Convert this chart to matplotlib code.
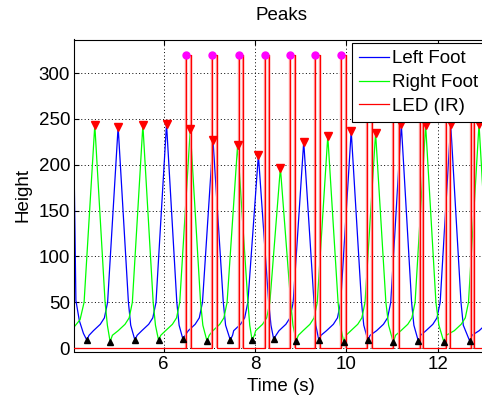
import numpy as np
import matplotlib
matplotlib.use('Agg')
import matplotlib.pyplot as plt

plt.rcParams['font.family'] = ['Liberation Sans', 'DejaVu Sans']

# pressure traces of the two feet (time in s, height in sensor counts)
left_t = [4.05, 4.085, 4.16, 4.25, 4.323,
          4.373, 4.468, 4.618, 4.708, 4.778, 5.008, 5.233, 5.283, 5.374,
          5.424, 5.526, 5.676, 5.766, 5.836, 6.066, 6.291, 6.341, 6.425,
          6.475, 6.542, 6.692, 6.782, 6.852, 7.082, 7.307, 7.357, 7.460,
          7.510, 7.534, 7.684, 7.774, 7.844, 8.074, 8.299, 8.349, 8.409,
          8.459, 8.525, 8.675, 8.765, 8.835, 9.065, 9.290, 9.330, 9.394,
          9.444, 9.563, 9.713, 9.803, 9.873, 10.103, 10.328, 10.378, 10.467,
          10.517, 10.658, 10.808, 10.898, 10.968, 11.198, 11.423, 11.473, 11.570,
          11.620, 11.738, 11.888, 11.978, 12.048, 12.278, 12.503, 12.553, 12.694,
          12.744, 12.900, 13.050, 13.150]
left_h = [180, 52, 30, 16, 8.8,
          14, 19, 26, 33, 50, 241.6, 50, 25, 8.8,
          14, 19, 26, 33, 50, 244.5, 50, 25, 9.6,
          14, 19, 26, 33, 50, 227.0, 50, 25, 8.8,
          14, 19, 26, 33, 50, 210.7, 50, 25, 9.6,
          14, 19, 26, 33, 50, 225.2, 50, 25, 8.8,
          14, 19, 26, 33, 50, 236.9, 50, 25, 8.8,
          14, 19, 26, 33, 50, 244.5, 50, 25, 7.7,
          14, 19, 26, 33, 50, 244.5, 50, 25, 7.7,
          14, 19, 26, 33]

right_t = [4.045, 4.176, 4.264, 4.498, 4.723, 4.773, 4.833,
           4.883, 5.009, 5.159, 5.249, 5.319, 5.549, 5.774, 5.824, 5.891,
           5.941, 6.045, 6.195, 6.285, 6.355, 6.585, 6.810, 6.860, 6.950,
           7.000, 7.080, 7.230, 7.320, 7.390, 7.620, 7.845, 7.885, 7.936,
           7.986, 8.015, 8.165, 8.255, 8.325, 8.555, 8.780, 8.830, 8.899,
           8.949, 9.051, 9.201, 9.291, 9.361, 9.591, 9.816, 9.866, 9.941,
           9.991, 10.096, 10.246, 10.336, 10.406, 10.636, 10.861, 10.921, 11.023,
           11.073, 11.190, 11.340, 11.430, 11.500, 11.730, 11.955, 12.020, 12.131,
           12.181, 12.357, 12.507, 12.597, 12.667, 12.897, 13.122, 13.172]
right_h = [23, 31, 50, 243.4, 50, 25, 7.0,
           14, 19, 26, 33, 50, 243.4, 50, 25, 8.8,
           14, 19, 26, 33, 50, 238.7, 50, 25, 7.7,
           14, 19, 26, 33, 50, 221.6, 50, 25, 8.8,
           14, 19, 26, 33, 50, 196.8, 50, 25, 8.1,
           14, 19, 26, 33, 50, 231.4, 50, 25, 6.3,
           14, 19, 26, 33, 50, 235.0, 50, 25, 6.3,
           14, 19, 26, 33, 50, 243.4, 50, 25, 6.3,
           14, 19, 26, 33, 50, 244.5, 50, 25]

# IR LED pulses: rising / falling edge times
led_on = [6.50, 7.07, 7.64, 8.21, 8.76, 9.32, 9.89, 10.45, 11.02, 11.60, 12.18, 12.72]
led_off = [6.60, 7.17, 7.74, 8.31, 8.87, 9.43, 10.00, 10.56, 11.15, 11.68, 12.26, 12.78]
led_high = 320
led_low = 0


def local_extrema(t, h):
    t = np.asarray(t)
    h = np.asarray(h)
    mx = np.where((h[1:-1] > h[:-2]) & (h[1:-1] > h[2:]))[0] + 1
    mn = np.where((h[1:-1] < h[:-2]) & (h[1:-1] < h[2:]))[0] + 1
    return t[mx], h[mx], t[mn], h[mn]


led_t = [4.0]
led_v = [led_low]
for on, off in zip(led_on, led_off):
    led_t += [on, on, off, off]
    led_v += [led_low, led_high, led_high, led_low]
led_t.append(13.3)
led_v.append(led_low)

fig = plt.figure(figsize=(4.82, 4.03), dpi=100)
ax = fig.add_axes([74.3 / 482, 51.5 / 403, 414 / 482, 312 / 403])

ax.plot(left_t, left_h, color='#0000ff', lw=0.9, label='Left Foot')
ax.plot(right_t, right_h, color='#00ff00', lw=0.9, label='Right Foot')
ax.vlines(led_on + led_off, led_low, led_high, color='#ff9c9c', lw=1.7, zorder=2)
ax.plot(led_t, led_v, color='#ff0000', lw=0.9, label='LED (IR)', zorder=3)

for t, h in [(left_t, left_h), (right_t, right_h)]:
    pt, ph, tt, th = local_extrema(t, h)
    ax.plot(pt, ph, 'v', color='#ff0000', ms=6, zorder=4)
    ax.plot(tt, th, '^', color='k', ms=5, zorder=4)
ax.plot(led_on, [led_high] * len(led_on), 'o', color='#ff00ff', ms=5, zorder=4)

ax.set_xlim(4.05, 13.1)
ax.set_ylim(-3.7, 336.7)
ax.set_xticks([6, 8, 10, 12])
ax.set_yticks(range(0, 301, 50))
ax.tick_params(direction='in', top=True, right=True, length=3.5, labelsize=13.5, pad=3)
ax.grid(True, color='k', linestyle=(0, (1, 2.5)), linewidth=0.7)
for s in ax.spines.values():
    s.set_linewidth(0.8)

ax.set_title('Peaks', fontsize=13.5, pad=14)
ax.set_xlabel('Time (s)', fontsize=13.5, labelpad=4)
ax.set_ylabel('Height', fontsize=13.5, labelpad=5)

leg = ax.legend(loc='upper left', bbox_to_anchor=(352 / 482, 1 - 43 / 403),
                bbox_transform=fig.transFigure, borderaxespad=0,
                fontsize=13.5, handlelength=1.6, handletextpad=0.15,
                labelspacing=0.36, borderpad=0.38, fancybox=False,
                framealpha=1, edgecolor='k')
leg.get_frame().set_linewidth(0.8)

fig.savefig('out.png', dpi=100)
